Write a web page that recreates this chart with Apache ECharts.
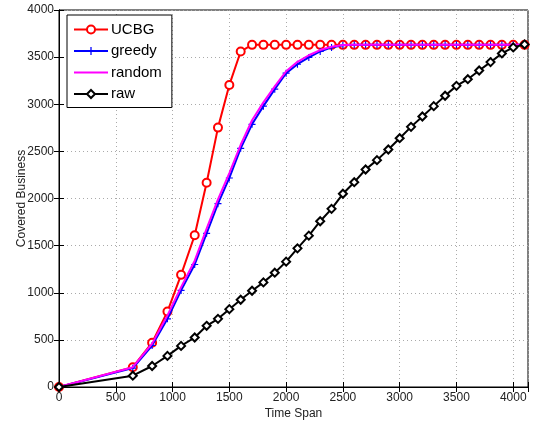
<!DOCTYPE html>
<html>
<head>
<meta charset="utf-8">
<script src="https://cdn.jsdelivr.net/npm/echarts@6/dist/echarts.min.js"></script>
<style>
html, body { margin: 0; padding: 0; background: #fff; }
#main { width: 535px; height: 426px; }
</style>
</head>
<body>
<div id="main"></div>
<script>
// 横轴：时间跨度
var timeSpan = [0, 650, 820, 955, 1075, 1195, 1300, 1400, 1500, 1600, 1700, 1800, 1900, 2000,
    2100, 2200, 2300, 2400, 2500, 2600, 2700, 2800, 2900, 3000, 3100, 3200, 3300, 3400,
    3500, 3600, 3700, 3800, 3900, 4000, 4100]
var ucbg = [0, 210, 470, 800, 1190, 1610, 2167, 2752, 3205, 3560, 3630, 3630, 3630, 3630,
    3630, 3630, 3630, 3630, 3630, 3630, 3630, 3630, 3630, 3630, 3630, 3630, 3630, 3630,
    3630, 3630, 3630, 3630, 3630, 3630, 3630]
var greedy = [0, 200, 440, 723, 1025, 1300, 1630, 1945, 2218, 2532, 2787, 2980, 3160, 3330,
    3425, 3497, 3560, 3603, 3625, 3630, 3630, 3630, 3630, 3630, 3630, 3630, 3630, 3630,
    3630, 3630, 3630, 3630, 3630, 3630, 3630]
var random = [0, 210, 460, 760, 1060, 1340, 1680, 1990, 2270, 2570, 2830, 3020, 3190, 3350,
    3450, 3520, 3575, 3610, 3628, 3630, 3630, 3630, 3630, 3630, 3630, 3630, 3630, 3630,
    3630, 3630, 3630, 3630, 3630, 3630, 3630]
var raw = [0, 120, 223, 330, 436, 525, 649, 723, 826, 926, 1021, 1110, 1213, 1330,
    1471, 1606, 1759, 1890, 2050, 2173, 2308, 2407, 2520, 2640, 2760, 2870, 2980, 3090,
    3195, 3266, 3358, 3447, 3539, 3603, 3635]

var FONT = 'Liberation Sans'
var plusPath = 'path://M4.2,0L5.8,0L5.8,4.2L10,4.2L10,5.8L5.8,5.8L5.8,10L4.2,10L4.2,5.8L0,5.8L0,4.2L4.2,4.2Z'
// 图例里只画一条线（random 没有标记）
var lineIcon = 'path://M0,0L0,0ZM0,4L34,4L34,6L0,6ZM34,10L34,10Z'

function pairs (ys) {
    return timeSpan.map(function (t, i) { return [t, ys[i]] })
}

var myChart = echarts.init(document.getElementById('main'))

var gridLine = {
    show: true,
    lineStyle: { color: '#aaa', type: [1, 3], width: 1 }
}

myChart.setOption({
    animation: false,
    backgroundColor: '#fff',
    grid: {
        left: 59,
        top: 10,
        right: 7,
        bottom: 39,
        containLabel: false,
        outerBoundsMode: 'none',
        show: true,
        borderColor: '#000',
        borderWidth: 1
    },
    legend: {
        orient: 'vertical',
        left: 67,
        top: 15,
        width: 106,
        padding: [7, 10, 6, 6],
        itemWidth: 34,
        itemHeight: 10,
        itemGap: 6.5,
        backgroundColor: '#fff',
        borderColor: '#000',
        borderWidth: 1,
        textStyle: { fontFamily: FONT, fontSize: 15, color: '#000', padding: [0, 0, 0, -2] },
        data: ['UCBG', 'greedy', { name: 'random', icon: lineIcon }, 'raw']
    },
    xAxis: [{
        type: 'value',
        min: 0,
        max: 4130,
        interval: 500,
        name: 'Time Span',
        nameLocation: 'middle',
        nameGap: 21,
        nameMoveOverlap: false,
        nameTextStyle: { fontFamily: FONT, fontSize: 12, color: '#222' },
        axisLine: { lineStyle: { color: '#000', width: 1 } },
        axisTick: { inside: true, length: 5, lineStyle: { color: '#000' } },
        axisLabel: {
            fontFamily: FONT,
            fontSize: 12,
            color: '#222',
            margin: 5,
            formatter: function (v) { return v % 500 === 0 ? String(v) : '' }
        },
        splitLine: gridLine
    }, {
        type: 'value',
        position: 'top',
        min: 0,
        max: 4130,
        interval: 500,
        axisLine: { lineStyle: { color: '#000', width: 1 } },
        axisTick: { inside: true, length: 5, lineStyle: { color: '#000' } },
        axisLabel: { show: false },
        splitLine: { show: false }
    }],
    yAxis: [{
        type: 'value',
        min: 0,
        max: 4000,
        interval: 500,
        name: 'Covered Business',
        nameLocation: 'middle',
        nameGap: 31,
        nameMoveOverlap: false,
        nameTextStyle: { fontFamily: FONT, fontSize: 12, color: '#222' },
        axisLine: { lineStyle: { color: '#000', width: 1 } },
        axisTick: { inside: true, length: 5, lineStyle: { color: '#000' } },
        axisLabel: {
            fontFamily: FONT,
            fontSize: 12,
            color: '#222',
            margin: 5,
            formatter: function (v) { return String(v) }
        },
        splitLine: gridLine
    }, {
        type: 'value',
        position: 'right',
        min: 0,
        max: 4000,
        interval: 500,
        axisLine: { show: true, lineStyle: { color: '#000', width: 1 } },
        axisTick: { show: true, inside: true, length: 5, lineStyle: { color: '#000' } },
        axisLabel: { show: false },
        splitLine: { show: false }
    }],
    series: [{
        name: 'UCBG',
        type: 'line',
        data: pairs(ucbg),
        color: '#ff0000',
        symbol: 'emptyCircle',
        symbolSize: 8,
        showAllSymbol: true,
        lineStyle: { width: 2 },
        itemStyle: { borderWidth: 2 },
        z: 3
    }, {
        name: 'greedy',
        type: 'line',
        data: pairs(greedy),
        color: '#0000ff',
        symbol: plusPath,
        symbolSize: 7,
        showAllSymbol: true,
        lineStyle: { width: 2 },
        itemStyle: { color: '#0000ff' },
        z: 4
    }, {
        name: 'random',
        type: 'line',
        data: pairs(random),
        color: '#ff00ff',
        symbol: 'none',
        lineStyle: { width: 2 },
        z: 5
    }, {
        name: 'raw',
        type: 'line',
        data: pairs(raw),
        color: '#000000',
        symbol: 'emptyDiamond',
        symbolSize: 8,
        showAllSymbol: true,
        lineStyle: { width: 2 },
        itemStyle: { borderWidth: 2 },
        z: 6
    }]
})
</script>
</body>
</html>
